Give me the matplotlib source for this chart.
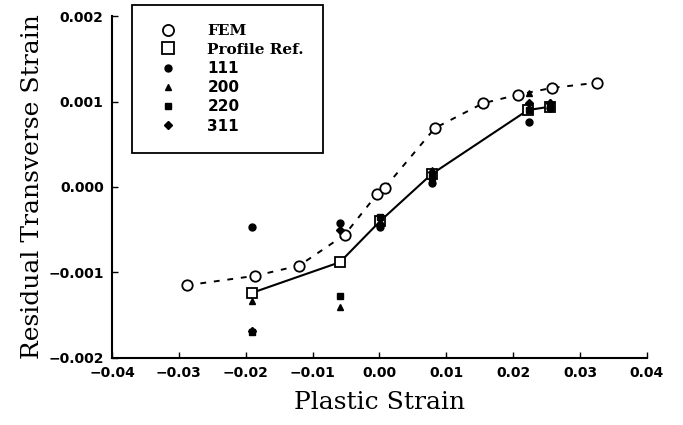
import numpy as np
import matplotlib.pyplot as plt
from matplotlib.lines import Line2D

# FEM prediction (dashed curve with open circles)
fem_x = [-0.0288, -0.0186, -0.0120, -0.0052, -0.0003, 0.0008, 0.0083, 0.0155, 0.0207, 0.0258, 0.0325]
fem_y = [-0.00115, -0.00104, -0.00092, -0.00056, -0.00008, -0.00001, 0.00069, 0.00098, 0.00108, 0.00116, 0.00122]

# profile refinement (solid line with open squares)
prof_x = [-0.0191, -0.0059, 0.0001, 0.0078, 0.0222, 0.0255]
prof_y = [-0.00124, -0.00088, -0.00040, 0.00015, 0.00090, 0.00094]

# single-peak strains
peak_x = [-0.0191, -0.0059, 0.0001, 0.0078, 0.0224, 0.0255]
s111 = [-0.00047, -0.00042, -0.00047, 0.00005, 0.00076, 0.00092]
s200 = [-0.00134, -0.00140, -0.00040, 0.00020, 0.00110, 0.00100]
s220 = [-0.00170, -0.00128, -0.00035, 0.00012, 0.00090, 0.00095]
s311 = [-0.00168, -0.00050, -0.00043, 0.00018, 0.00098, 0.00098]

xticks = [-0.04, -0.03, -0.02, -0.01, 0.00, 0.01, 0.02, 0.03, 0.04]
yticks = [-0.002, -0.001, 0.000, 0.001, 0.002]

fig = plt.figure(figsize=(6.83, 4.25), dpi=100)
ax = fig.add_axes([0.164, 0.158, 0.783, 0.804])

ax.plot(fem_x, fem_y, color="black", lw=1.4, ls=(0, (3, 4)), marker="o", ms=7.5,
        mfc="white", mec="black", mew=1.3, zorder=3)
ax.plot(prof_x, prof_y, color="black", lw=1.5, marker="s", ms=7.5,
        mfc="white", mec="black", mew=1.3, zorder=2)

ax.plot(peak_x, s111, ls="none", marker="o", ms=5, color="black", zorder=4)
ax.plot(peak_x, s200, ls="none", marker="^", ms=5, color="black", zorder=4)
ax.plot(peak_x, s220, ls="none", marker="s", ms=4.5, color="black", zorder=4)
ax.plot(peak_x, s311, ls="none", marker="D", ms=4.5, color="black", zorder=4)

ax.set_xlim(-0.04, 0.04)
ax.set_ylim(-0.002, 0.002)
ax.set_xticks(xticks)
ax.set_yticks(yticks)
ax.set_xticklabels([f"{v:.2f}".replace("-", "\u2212") for v in xticks])
ax.set_yticklabels([f"{v:.3f}".replace("-", "\u2212") for v in yticks])
for lab in ax.get_xticklabels() + ax.get_yticklabels():
    lab.set_fontweight("bold")
    lab.set_fontsize(10)
ax.tick_params(direction="in", length=4, width=1, pad=6)

ax.spines["top"].set_visible(False)
ax.spines["right"].set_visible(False)
ax.spines["left"].set_linewidth(1.5)
ax.spines["bottom"].set_linewidth(1.5)

ax.set_xlabel("Plastic Strain", family="DejaVu Serif", fontsize=18, labelpad=8)
ax.set_ylabel("Residual Transverse Strain", family="DejaVu Serif", fontsize=18, labelpad=3)

handles = [
    Line2D([], [], ls="none", marker="o", ms=8, mfc="white", mec="black", mew=1.3),
    Line2D([], [], ls="none", marker="s", ms=8, mfc="white", mec="black", mew=1.3),
    Line2D([], [], ls="none", marker="o", ms=5, color="black"),
    Line2D([], [], ls="none", marker="^", ms=5, color="black"),
    Line2D([], [], ls="none", marker="s", ms=4.5, color="black"),
    Line2D([], [], ls="none", marker="D", ms=4.5, color="black"),
]
labels = ["FEM", "Profile Ref.", "111", "200", "220", "311"]
leg = ax.legend(handles, labels, loc="upper left", bbox_to_anchor=(0.037, 1.032),
                borderaxespad=0, frameon=True, fancybox=False, edgecolor="black",
                framealpha=1, handletextpad=1.5, handlelength=2.2, labelspacing=0.28,
                borderpad=1.25, prop={"weight": "bold", "size": 11})
leg.get_frame().set_linewidth(1.3)
for t in leg.get_texts()[:2]:
    t.set_family("DejaVu Serif")

fig.savefig("out.png", dpi=100)
